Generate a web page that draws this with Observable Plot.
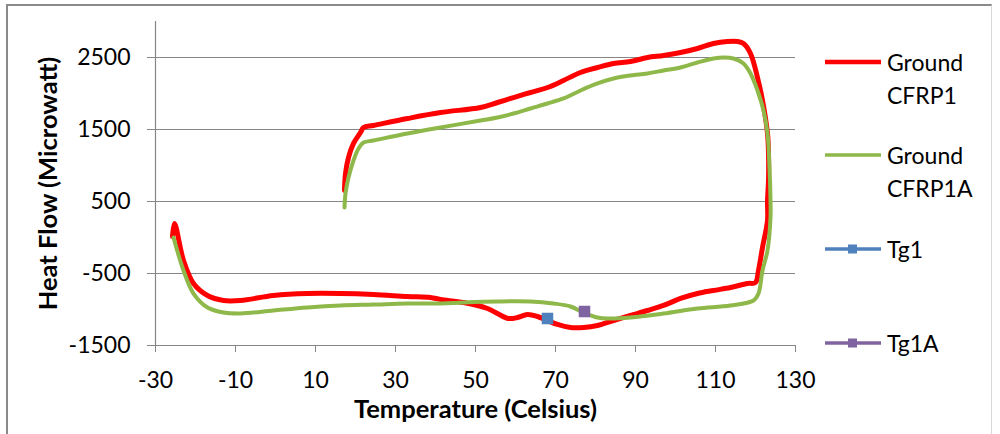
<!DOCTYPE html>
<html>
<head>
<meta charset="utf-8">
<script src="https://cdn.jsdelivr.net/npm/d3@7"></script>
<script src="https://cdn.jsdelivr.net/npm/@observablehq/plot@0.6"></script>
<style>
  html, body { margin: 0; padding: 0; background: #fff; }
  #wrap { position: relative; width: 1000px; height: 434px; overflow: hidden; font-family: Lato, "Open Sans", sans-serif; }
  #frame { position: absolute; left: 6px; top: 4px; width: 986px; height: 440px; border-left: 2px solid #8a8a8a; border-top: 2px solid #8a8a8a; border-right: 1px solid #d8d8d8; box-sizing: border-box; }
  #chart { position: absolute; left: 0; top: 0; }
  #chart [aria-label="y-axis label"] text, #chart [aria-label="x-axis label"] text { font-weight: bold; font-size: 25.5px; }
  #legend { position: absolute; left: 0; top: 0; width: 1000px; height: 434px; pointer-events: none; }
  .lg-text { position: absolute; left: 887px; font-size: 23px; line-height: 33px; color: #000; white-space: pre; }
</style>
</head>
<body>
<div id="wrap">
  <div id="frame"></div>
  <div id="chart"></div>
  <div id="legend"></div>
</div>
<script>
// ---- data ----
const seriesNames = ["Ground\nCFRP1", "Ground\nCFRP1A", "Tg1", "Tg1A"];
const seriesColors = ["#ff0000", "#8fb84a", "#4f81bd", "#8064a2"];

const xTicks = [-30, -10, 10, 30, 50, 70, 90, 110, 130];
const yTicks = [-1500, -500, 500, 1500, 2500];

// Ground CFRP1 (path order)
const cfrp1Temp = [-25.75, -25.25, -23, -20.5, -17, -13, -8.75, -0.5, 8, 16.25, 24.5, 33, 38.75, 41.25, 47, 53, 55.5, 58.25, 60.5, 63, 65.5, 68, 70.5, 73.75, 77, 80.5, 84.5, 88.75, 93, 97, 101.25, 105.5, 109.5, 113.75, 118, 120, 120.75, 121.75, 123, 123, 123.25, 123.25, 123, 121.75, 120.5, 118.75, 117, 115.5, 113, 109.5, 105.5, 101.25, 97, 93, 88.75, 84.5, 80.5, 76.25, 72, 68, 63.75, 59.5, 55.5, 51.25, 41.25, 33, 24.5, 22, 21.25, 19.5, 18.25, 17.5, 17.25];
const cfrp1Heat = [14, 194, -319, -639, -806, -875, -875, -806, -778, -778, -792, -819, -833, -861, -903, -986, -1056, -1125, -1111, -1069, -1097, -1153, -1208, -1250, -1250, -1222, -1153, -1083, -1014, -944, -847, -778, -736, -694, -639, -625, -458, -139, 236, 514, 792, 1167, 1444, 1903, 2222, 2556, 2694, 2722, 2722, 2694, 2625, 2569, 2528, 2500, 2444, 2417, 2361, 2292, 2181, 2083, 2014, 1944, 1875, 1806, 1736, 1653, 1556, 1528, 1458, 1306, 1111, 889, 653];

// Ground CFRP1A (path order)
const cfrp1aTemp = [-25.5, -23, -20.5, -17, -13, -8.75, -0.5, 8, 16.25, 24.5, 33, 41.25, 47, 55.5, 63.75, 69.5, 73.75, 77, 80.5, 83, 88.75, 97, 105.5, 113.75, 119.5, 120.75, 121.75, 123, 123.75, 123.75, 123.5, 123, 122, 120.5, 118.75, 117, 114.5, 112, 109.5, 105.5, 101.25, 97, 93, 88.75, 84.5, 80.5, 76.25, 72, 68, 63.75, 59.5, 55.5, 51.25, 41.25, 33, 24.5, 22, 20.75, 19.5, 18.25, 17.5, 17.25];
const cfrp1aHeat = [0, -458, -778, -972, -1042, -1056, -1014, -972, -944, -931, -917, -917, -903, -889, -889, -917, -958, -1042, -1111, -1125, -1111, -1056, -986, -944, -875, -778, -458, -181, 278, 514, 972, 1444, 1764, 2042, 2278, 2417, 2486, 2500, 2486, 2431, 2361, 2319, 2278, 2250, 2208, 2139, 2042, 1931, 1861, 1792, 1722, 1667, 1625, 1528, 1444, 1347, 1319, 1236, 1069, 833, 611, 417];

// Tg markers
const tgNames = ["Tg1", "Tg1A"];
const tgTemp = [68, 77.25];
const tgHeat = [-1125, -1028];

// ---- build tables ----
const cfrp1 = cfrp1Temp.map((t, i) => ({t, h: cfrp1Heat[i]}));
const cfrp1a = cfrp1aTemp.map((t, i) => ({t, h: cfrp1aHeat[i]}));
const tg = tgTemp.map((t, i) => ({t, h: tgHeat[i], name: tgNames[i]}));

const grid = "#868686";
const fmt = d => String(d);

const chart = Plot.plot({
  width: 810,
  height: 434,
  marginLeft: 155,
  marginRight: 15,
  marginTop: 21,
  marginBottom: 89,
  x: {domain: [-30, 130]},
  y: {domain: [-1500, 3000]},
  style: {fontFamily: "Lato, 'Open Sans', sans-serif", fontSize: "23px", color: "#000", background: "transparent", overflow: "visible"},
  marks: [
    Plot.gridY(yTicks.filter(d => d > -1500), {stroke: grid, strokeOpacity: 1, strokeWidth: 1.2}),
    Plot.ruleX([-30], {stroke: grid, strokeWidth: 1.2}),
    Plot.ruleY([-1500], {stroke: grid, strokeWidth: 1.2}),
    Plot.axisY({ticks: yTicks, tickFormat: fmt, tickSize: 8, tickPadding: 17, stroke: grid, fill: "#000",
      label: "Heat Flow (Microwatt)", labelAnchor: "center", labelOffset: 117, labelArrow: false}),
    Plot.axisX({ticks: xTicks, tickFormat: fmt, tickSize: 7, tickPadding: 19, stroke: grid, fill: "#000",
      label: "Temperature (Celsius)", labelAnchor: "center", labelOffset: 72, labelArrow: false}),
    Plot.line(cfrp1, {x: "t", y: "h", stroke: seriesColors[0], strokeWidth: 5, curve: "catmull-rom"}),
    Plot.line(cfrp1a, {x: "t", y: "h", stroke: seriesColors[1], strokeWidth: 4, curve: "catmull-rom"}),
    Plot.dot(tg, {x: "t", y: "h", symbol: "square", r: 6.5, fill: d => d.name === "Tg1" ? seriesColors[2] : seriesColors[3], stroke: "none"})
  ]
});
document.getElementById("chart").appendChild(chart);

// ---- legend ----
const legend = document.getElementById("legend");
const legendY = [62, 155, 249, 343];
const lsvg = d3.select(legend).append("svg").attr("width", 1000).attr("height", 434).style("position", "absolute").style("left", 0).style("top", 0);
seriesNames.forEach((name, i) => {
  const y = legendY[i];
  lsvg.append("line").attr("x1", 825).attr("x2", 881).attr("y1", y).attr("y2", y)
    .attr("stroke", seriesColors[i]).attr("stroke-width", i === 0 ? 4.5 : 3.5);
  if (i >= 2) {
    lsvg.append("rect").attr("x", 848).attr("y", y - 4.5).attr("width", 9).attr("height", 9).attr("fill", seriesColors[i]);
  }
  const div = document.createElement("div");
  div.className = "lg-text";
  div.style.top = (y - 16.5) + "px";
  div.textContent = name;
  legend.appendChild(div);
});
</script>
</body>
</html>
